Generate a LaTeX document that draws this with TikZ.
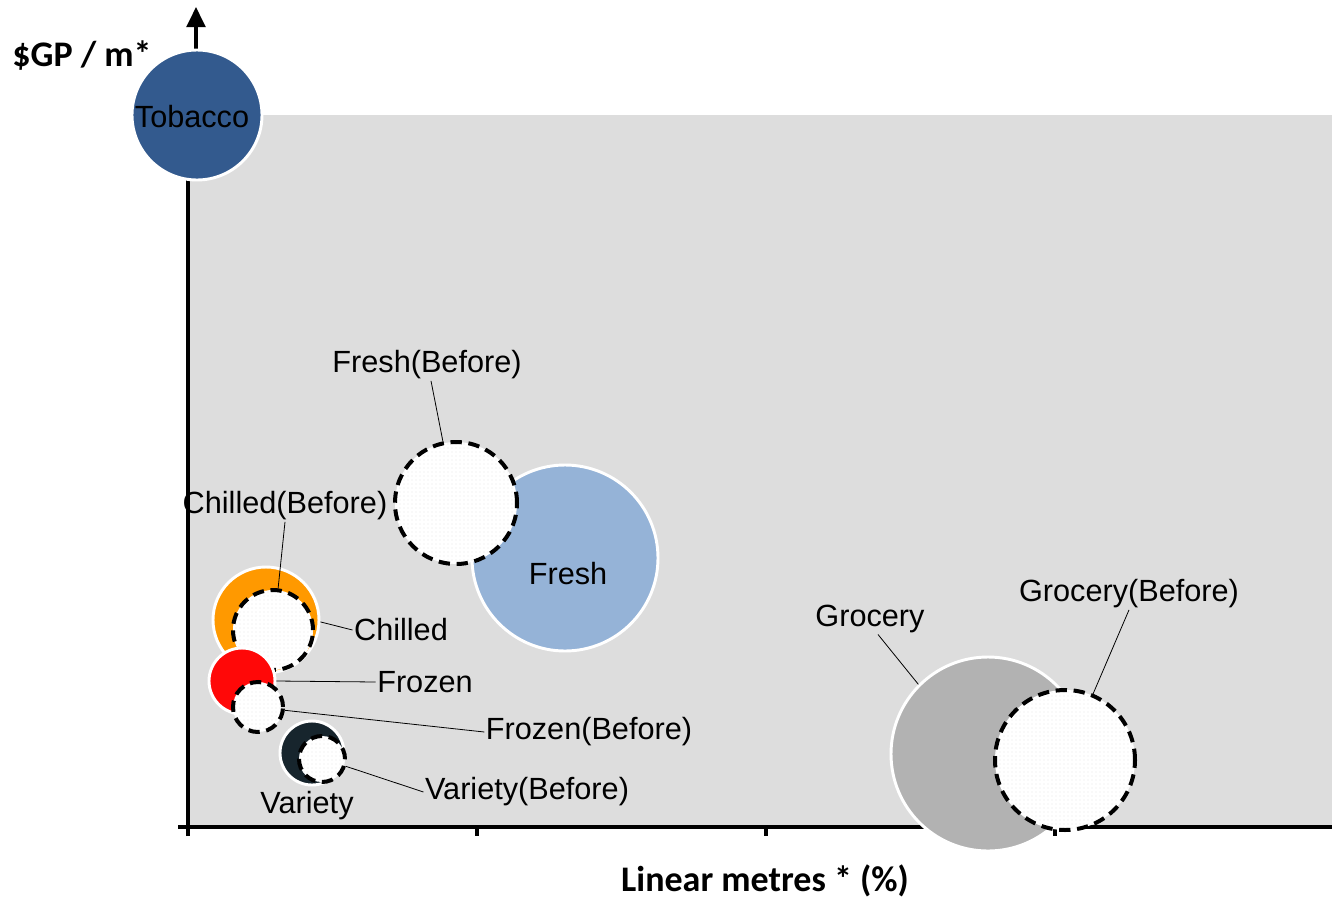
\documentclass[tikz,border=0pt]{standalone}
\usepackage{fontspec}
\setmainfont{Liberation Sans}
\newfontfamily\axisfont{Carlito}
\usetikzlibrary{arrows.meta,patterns}
\definecolor{bgC}{RGB}{221,221,221}
\definecolor{tobC}{RGB}{51,90,142}
\definecolor{freshC}{RGB}{149,179,215}
\definecolor{chillC}{RGB}{255,153,0}
\definecolor{frozC}{RGB}{255,8,8}
\definecolor{varC}{RGB}{23,37,45}
\definecolor{grocC}{RGB}{178,178,178}
\begin{document}
\begin{tikzpicture}[x=0.75pt,y=-0.75pt,
  bub/.style={circle, inner sep=0pt, minimum size=#1*1.5pt},
  bubfill/.style={draw=white, line width=2.2pt, fill=#1},
  bubbefore/.style={draw=black, line width=3pt, dash pattern=on 8.5pt off 5pt,
     preaction={fill=white}, pattern=dots, pattern color=black!9},
  lab/.style={font=\fontsize{23}{26}\selectfont, inner sep=1pt},
  leader/.style={draw=black, line width=0.6pt},
  axislab/.style={font=\axisfont\bfseries\fontsize{#1}{#1}\selectfont, inner sep=0pt},
  axisline/.style={draw=black, line width=2.6pt}]
\useasboundingbox (0,0) rectangle (1332,900);
% plot area
\fill[bgC] (188,115) rectangle (1332,827);
% axes
\coordinate (xs) at (178,827);
\coordinate (xe) at (1332,827);
\coordinate (ys) at (188,836);
\coordinate (ye) at (188,115);
\draw[axisline] (xs) -- (xe);
\draw[axisline] (ys) -- (ye);
\foreach \t in {188,477,766,1055} {\draw[axisline] (\t,827) -- (\t,836);}
\coordinate (ab) at (196,50);
\coordinate (at) at (196,7);
\draw[axisline, -{Triangle[length=15pt,width=14pt]}] (ab) -- (at);
% bubbles
\node[bub=93, bubfill=freshC] (fresh) at (565,558) {};
\node[bub=61, bubbefore] (freshB) at (456,503) {};
\node[bub=53, bubfill=chillC] (chill) at (266,620) {};
\node[bub=40, bubbefore] (chillB) at (273,630) {};
\node[bub=33, bubfill=frozC] (froz) at (242,681) {};
\node[bub=25, bubbefore] (frozB) at (258,707) {};
\node[bub=32, bubfill=varC] (var) at (312,753) {};
\node[bub=23, bubbefore] (varB) at (322,759) {};
\node[bub=97, bubfill=grocC] (groc) at (988,754) {};
\node[bub=70, bubbefore] (grocB) at (1065,760) {};
\node[bub=65, bubfill=tobC] (tob) at (197,115) {};
% texts
\node[lab] (tobL) at (192,117) {Tobacco};
\node[lab] (freshL) at (568,574) {Fresh};
\node[lab] (freshBL) at (427,365) {Fresh(Before)};
\node[lab] (chillBL) at (285,506) {Chilled(Before)};
\node[lab] (chillL) at (401,630) {Chilled};
\node[lab] (frozL) at (425,682) {Frozen};
\node[lab] (frozBL) at (589,732) {Frozen(Before)};
\node[lab] (varBL) at (527,792) {Variety(Before)};
\node[lab] (varL) at (307,806) {Variety};
\node[lab] (grocL) at (870,619) {Grocery};
\node[lab] (grocBL) at (1129,594) {Grocery(Before)};
% leaders
\draw[leader] (freshBL.south) ++(3pt,0) -- (freshB.102);
\draw[leader] (chillBL.south) -- (chillB.83);
\draw[leader] (chillL.west) -- (chill.-2);
\draw[leader] (frozL.west) -- (froz.0);
\draw[leader] (frozBL.west) -- (frozB.-7);
\draw[leader] (varBL.west) -- (varB.-17);
\draw[leader] (grocL.south) ++(6pt,0) -- (groc.135);
\draw[leader] (grocBL.south) -- (grocB.67);
% axis labels
\node[axislab=27] (ylab) at (82,56) {\$GP / m*};
\node[axislab=27] (xlab) at (765,881) {Linear metres * (\%)};
\end{tikzpicture}
\end{document}
